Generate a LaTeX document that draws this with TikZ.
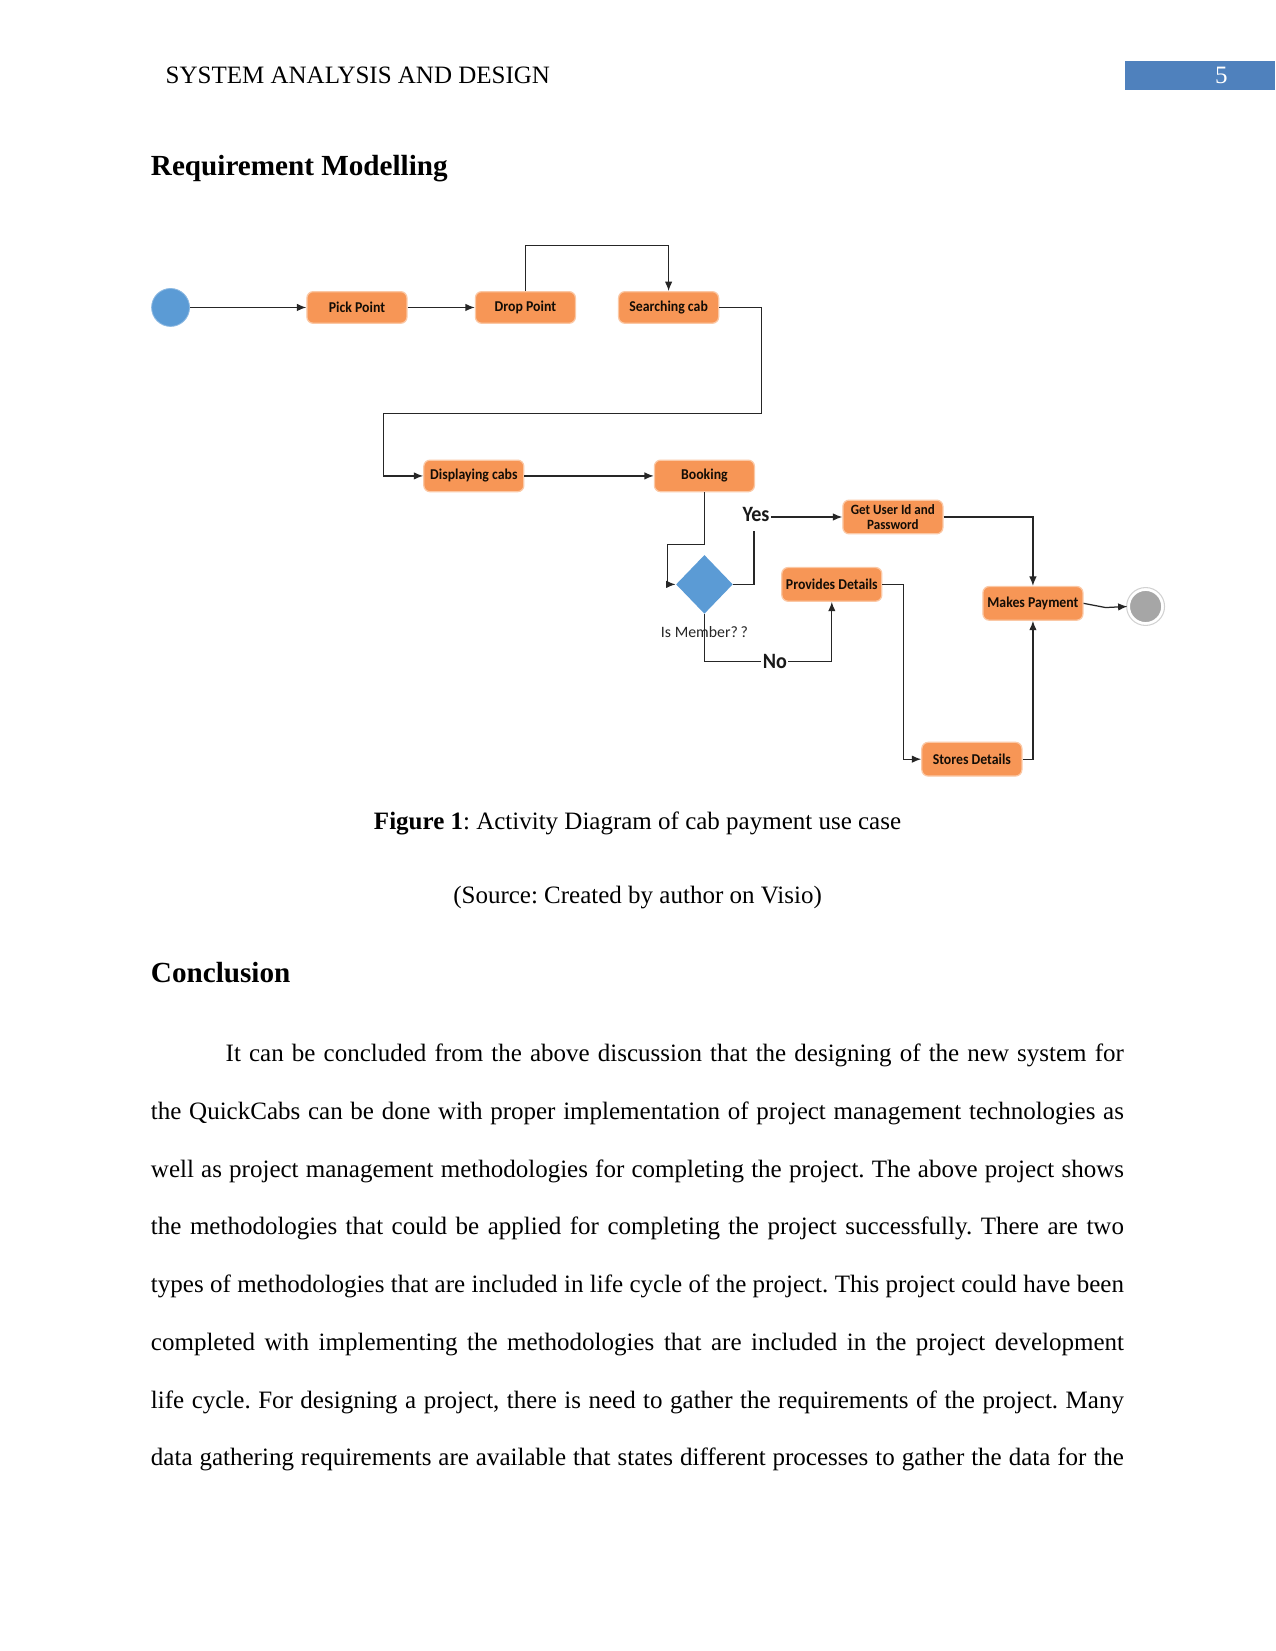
\documentclass[tikz,border=0pt]{standalone}
\usepackage{fontspec}
\setmainfont{Liberation Serif}
\newfontfamily\visio{Carlito}[FakeStretch=0.92]
\newfontfamily\visioreg{Carlito}
\usetikzlibrary{arrows.meta,shapes.geometric}
\newdimen\px \px=0.5054pt
\definecolor{boxor}{RGB}{247,150,86}
\definecolor{boxedge}{RGB}{251,200,165}
\definecolor{dblue}{RGB}{91,155,213}
\definecolor{pgblue}{RGB}{79,129,189}
\definecolor{endgray}{RGB}{166,166,166}
\frenchspacing
\begin{document}
\begin{tikzpicture}[x=0.5054pt,y=-0.5054pt,
  act/.style={rectangle, rounded corners=3pt, fill=boxor, draw=boxedge, line width=0.6pt,
    minimum width=95\px, minimum height=30\px, inner sep=1pt,
    font=\visio\bfseries\fontsize{7.2}{7.6}\selectfont, text=black!90!brown, align=center},
  conn/.style={line width=0.6pt, draw=black!85},
  arr/.style={conn, -{Latex[length=4.5pt,width=3.6pt]}},
  txt/.style={inner sep=0pt, anchor=base west, font=\fontsize{12}{14}\selectfont},
  lbl/.style={inner sep=0.5pt, font=\visio\bfseries\fontsize{10.5}{12}\selectfont, text=black!90}
]
\useasboundingbox (0,0) rectangle (1211,1568);
\fill[white] (0,0) rectangle (1211,1568);

% header
\node[txt] (hdr) at (157,79) {SYSTEM ANALYSIS AND DESIGN};
\fill[pgblue] (1068,58) rectangle (1211,85);
\node[txt, anchor=base, text=white] (pg) at (1160,79) {5};

\node[txt, font=\bfseries\fontsize{14}{16}\selectfont] (h1) at (143,167) {Requirement Modelling};

% diagram nodes
\node[circle, fill=dblue, draw=dblue!70, minimum size=36\px, inner sep=0pt] (start) at (162,292) {};
\node[act] (pick) at (339,292) {Pick Point};
\node[act] (drop) at (499,292) {Drop Point};
\node[act] (search) at (635,292) {Searching cab};
\node[act] (disp) at (450,452) {Displaying cabs};
\node[act] (book) at (669,452) {Booking};
\node[diamond, fill=dblue, minimum width=54\px, minimum height=56\px, inner sep=0pt, aspect=1] (dia) at (669,555) {};
\node[inner sep=0pt, font=\visioreg\fontsize{7.6}{9}\selectfont, text=black!85] (ism) at (669,600) {Is Member?\,?};
\node[act, minimum height=32\px, font=\visio\bfseries\fontsize{6.8}{7.2}\selectfont] (getuser) at (848,491) {Get User Id and\\Password};
\node[act, minimum height=32\px] (prov) at (790,555) {Provides Details};
\node[act, minimum height=32\px] (makes) at (981,573) {Makes Payment};
\node[act, minimum height=32\px] (stores) at (923,721) {Stores Details};
\node[circle, fill=endgray, draw=white, line width=1.2pt, minimum size=32\px, inner sep=0pt] (endc) at (1088,576) {};
\draw[black!18, line width=0.5pt] (endc.center) circle (18);

\node[lbl] (yes) at (718,489) {Yes};
\node[lbl] (no) at (736,628) {No};

% connectors
\draw[arr] (start) -- (pick);
\draw[arr] (pick) -- (drop);
\draw[arr] (drop.north) -- (499,233) -| (search.north);
\draw[arr] (search.east) -- (723,292) -- (723,393) -- (364,393) |- (disp.west);
\draw[arr] (disp) -- (book);
\draw[arr] (book.south) -- (669,517) -- (634,517) |- (dia.west);
\draw[conn] (dia.east) -- (716,555) -- (716,504);
\draw[arr] (yes.east |- getuser.west) -- (getuser.west);
\draw[conn] (dia.south) |- (no.west);
\draw[arr] (no.east) -| (prov.south);
\draw[arr] (getuser.east) -| (makes.north);
\draw[arr] (prov.east) -- (858,555) |- (stores.west);
\draw[arr] (stores.east) -| (makes.south);
\draw[arr] (makes.east) -- (1050,577) -- (endc.west);

% caption
\node[txt, anchor=base] (cap) at (605.5,788) {\textbf{Figure 1}: Activity Diagram of cab payment use case};
\node[txt, anchor=base] (src) at (605.5,858) {(Source: Created by author on Visio)};

\node[txt, font=\bfseries\fontsize{14}{16}\selectfont] (h2) at (143,933) {Conclusion};

% paragraph
\node[txt] (l1) at (214,1008.4) {\makebox[853\px][s]{It can be concluded from the above discussion that the designing of the new system for}};
\node[txt] (l2) at (143,1063.2) {\makebox[924\px][s]{the QuickCabs can be done with proper implementation of project management technologies as}};
\node[txt] (l3) at (143,1118.0) {\makebox[924\px][s]{well as project management methodologies for completing the project. The above project shows}};
\node[txt] (l4) at (143,1172.8) {\makebox[924\px][s]{the methodologies that could be applied for completing the project successfully. There are two}};
\node[txt] (l5) at (143,1227.6) {\makebox[924\px][s]{types of methodologies that are included in life cycle of the project. This project could have been}};
\node[txt] (l6) at (143,1282.4) {\makebox[924\px][s]{completed with implementing the methodologies that are included in the project development}};
\node[txt] (l7) at (143,1337.2) {\makebox[924\px][s]{life cycle. For designing a project, there is need to gather the requirements of the project. Many}};
\node[txt] (l8) at (143,1392.0) {\makebox[924\px][s]{data gathering requirements are available that states different processes to gather the data for the}};
\end{tikzpicture}
\end{document}
